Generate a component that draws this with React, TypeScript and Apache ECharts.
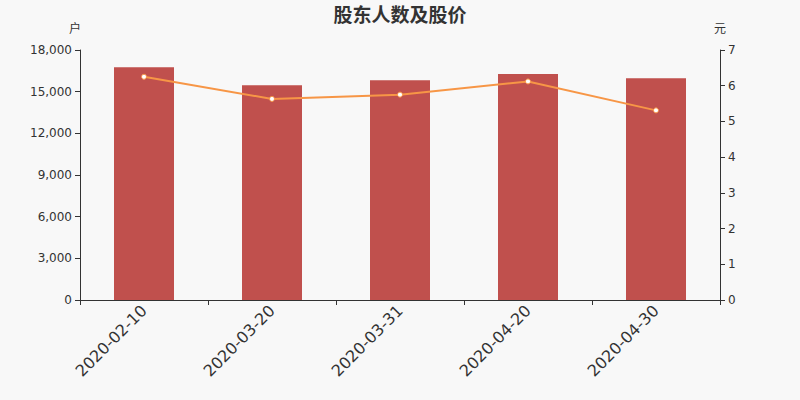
import { useRef, useEffect } from 'react'
import * as echarts from 'echarts'

const dates = ['2020-02-10', '2020-03-20', '2020-03-31', '2020-04-20', '2020-04-30']
const holders = [16750, 15460, 15820, 16270, 15960]
const prices = [6.25, 5.63, 5.75, 6.12, 5.31]

export default function App() {
  const chartRef = useRef<HTMLDivElement>(null)

  useEffect(() => {
    if (!chartRef.current) return
    const chart = echarts.init(chartRef.current, null, { renderer: 'svg' })
    chart.setOption({
      animation: false,
      backgroundColor: '#f8f8f8',
      textStyle: { fontFamily: 'DejaVu Sans, Noto Sans CJK SC, sans-serif' },
      title: {
        text: '股东人数及股价',
        left: 'center',
        top: 0,
        textStyle: { fontSize: 19, fontWeight: 'bold', color: '#333' }
      },
      grid: { left: 80, right: 80, top: 50, bottom: 100 },
      xAxis: {
        type: 'category',
        data: dates,
        axisLine: { lineStyle: { color: '#333' } },
        axisTick: { show: true },
        axisLabel: { rotate: 45, fontSize: 16, color: '#333', margin: 8 }
      },
      yAxis: [
        {
          type: 'value',
          name: '户',
          min: 0,
          max: 18000,
          interval: 3000,
          nameTextStyle: { color: '#333', fontSize: 12, padding: [0, 10, 0, 0] },
          axisLine: { show: true, lineStyle: { color: '#333' } },
          axisTick: { show: true },
          splitLine: { show: false },
          axisLabel: {
            color: '#333',
            fontSize: 12,
            formatter: (v: number) => v.toLocaleString('en-US')
          }
        },
        {
          type: 'value',
          name: '元',
          min: 0,
          max: 7,
          interval: 1,
          nameTextStyle: { color: '#333', fontSize: 12 },
          axisLine: { show: true, lineStyle: { color: '#333' } },
          axisTick: { show: true },
          splitLine: { show: false },
          axisLabel: { color: '#333', fontSize: 12 }
        }
      ],
      series: [
        {
          type: 'bar',
          data: holders,
          barWidth: 60,
          itemStyle: { color: '#c0504d' }
        },
        {
          type: 'line',
          yAxisIndex: 1,
          data: prices,
          symbol: 'circle',
          symbolSize: 5,
          lineStyle: { color: '#f79646', width: 2 },
          itemStyle: { color: '#fff', borderColor: '#f79646', borderWidth: 1 }
        }
      ]
    })
    return () => chart.dispose()
  }, [])

  return (
    <div
      ref={chartRef}
      style={{ position: 'fixed', left: 0, top: 0, width: 800, height: 400 }}
    />
  )
}
